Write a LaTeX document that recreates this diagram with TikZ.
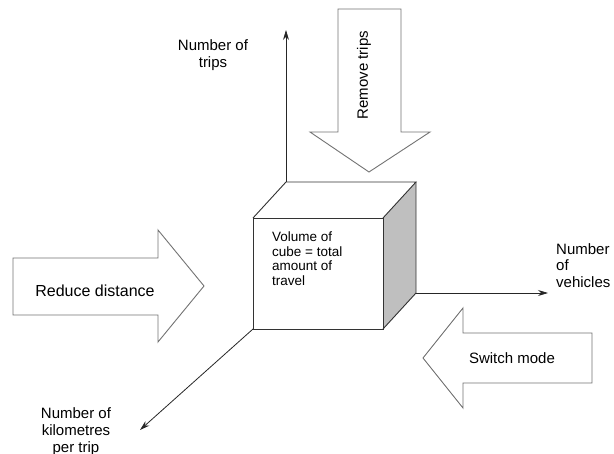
\documentclass[tikz,border=0pt]{standalone}
\usepackage{fontspec}
\setmainfont{Liberation Sans}
\usetikzlibrary{arrows.meta}
\begin{document}
\begin{tikzpicture}[x=1pt,y=-1pt,
  lbl/.style={font=\fontsize{15}{16.5}\selectfont, align=center, inner sep=0pt},
  blockarrow/.style={draw=black!55, line width=0.9pt, fill=white, line join=miter},
  axis/.style={draw=black!85, line width=0.8pt, -{Stealth[length=10pt,width=6pt]}},
  cubeedge/.style={draw=black!80, line width=0.9pt, line join=miter}]
\useasboundingbox (0,0) rectangle (614,454);

% cube corners
\coordinate (fTL) at (253,218);
\coordinate (fTR) at (383,218);
\coordinate (fBL) at (253,329);
\coordinate (fBR) at (383,329);
\coordinate (bTL) at (286,182);
\coordinate (bTR) at (416,182);
\coordinate (bBR) at (416,293);

% axis end points
\coordinate (tripsTip) at (286,30);
\coordinate (vehTip) at (548,293);
\coordinate (kmTip) at (140,430);

% axes
\draw[axis] (bTL) -- (tripsTip);
\draw[axis] (bBR) -- (vehTip);
\draw[axis] (fBL) -- (kmTip);

% cube
\fill[gray!50] (fTR) -- (bTR) -- (bBR) -- (fBR) -- cycle;
\draw[cubeedge] (fTL) -- (fTR) -- (fBR) -- (fBL) -- cycle;
\draw[cubeedge] (fTL) -- (bTL) -- (bTR) -- (fTR);
\draw[cubeedge] (bTR) -- (bBR) -- (fBR);
\node[lbl, align=left, anchor=north west, font=\fontsize{13.5}{14.5}\selectfont] (cubetxt) at (272,232)
  {Volume of\\cube = total\\amount of\\travel};

% block arrows
\draw[blockarrow] (338,9) -- (401,9) -- (401,132) -- (430,132) -- (369,172)
  -- (310,132) -- (338,132) -- cycle;
\node[lbl, rotate=90] (remove) at (364,75) {Remove trips};

\draw[blockarrow] (13,258) -- (158,258) -- (158,230) -- (204,286) -- (158,342)
  -- (158,315) -- (13,315) -- cycle;
\node[lbl, font=\fontsize{16}{17}\selectfont] (reduce) at (95,291) {Reduce distance};

\draw[blockarrow] (592,333) -- (592,383) -- (463,383) -- (463,408) -- (423,358)
  -- (463,308) -- (463,333) -- cycle;
\node[lbl] (switch) at (512,358) {Switch mode};

% axis labels
\node[lbl] (trips) at (213,55) {Number of\\trips};
\node[lbl, align=left, anchor=north west] (vehicles) at (556,243) {Number\\of\\vehicles};
\node[lbl, anchor=north, font=\fontsize{15}{17}\selectfont] (km) at (76,407) {Number of\\kilometres\\per trip};
\end{tikzpicture}
\end{document}
